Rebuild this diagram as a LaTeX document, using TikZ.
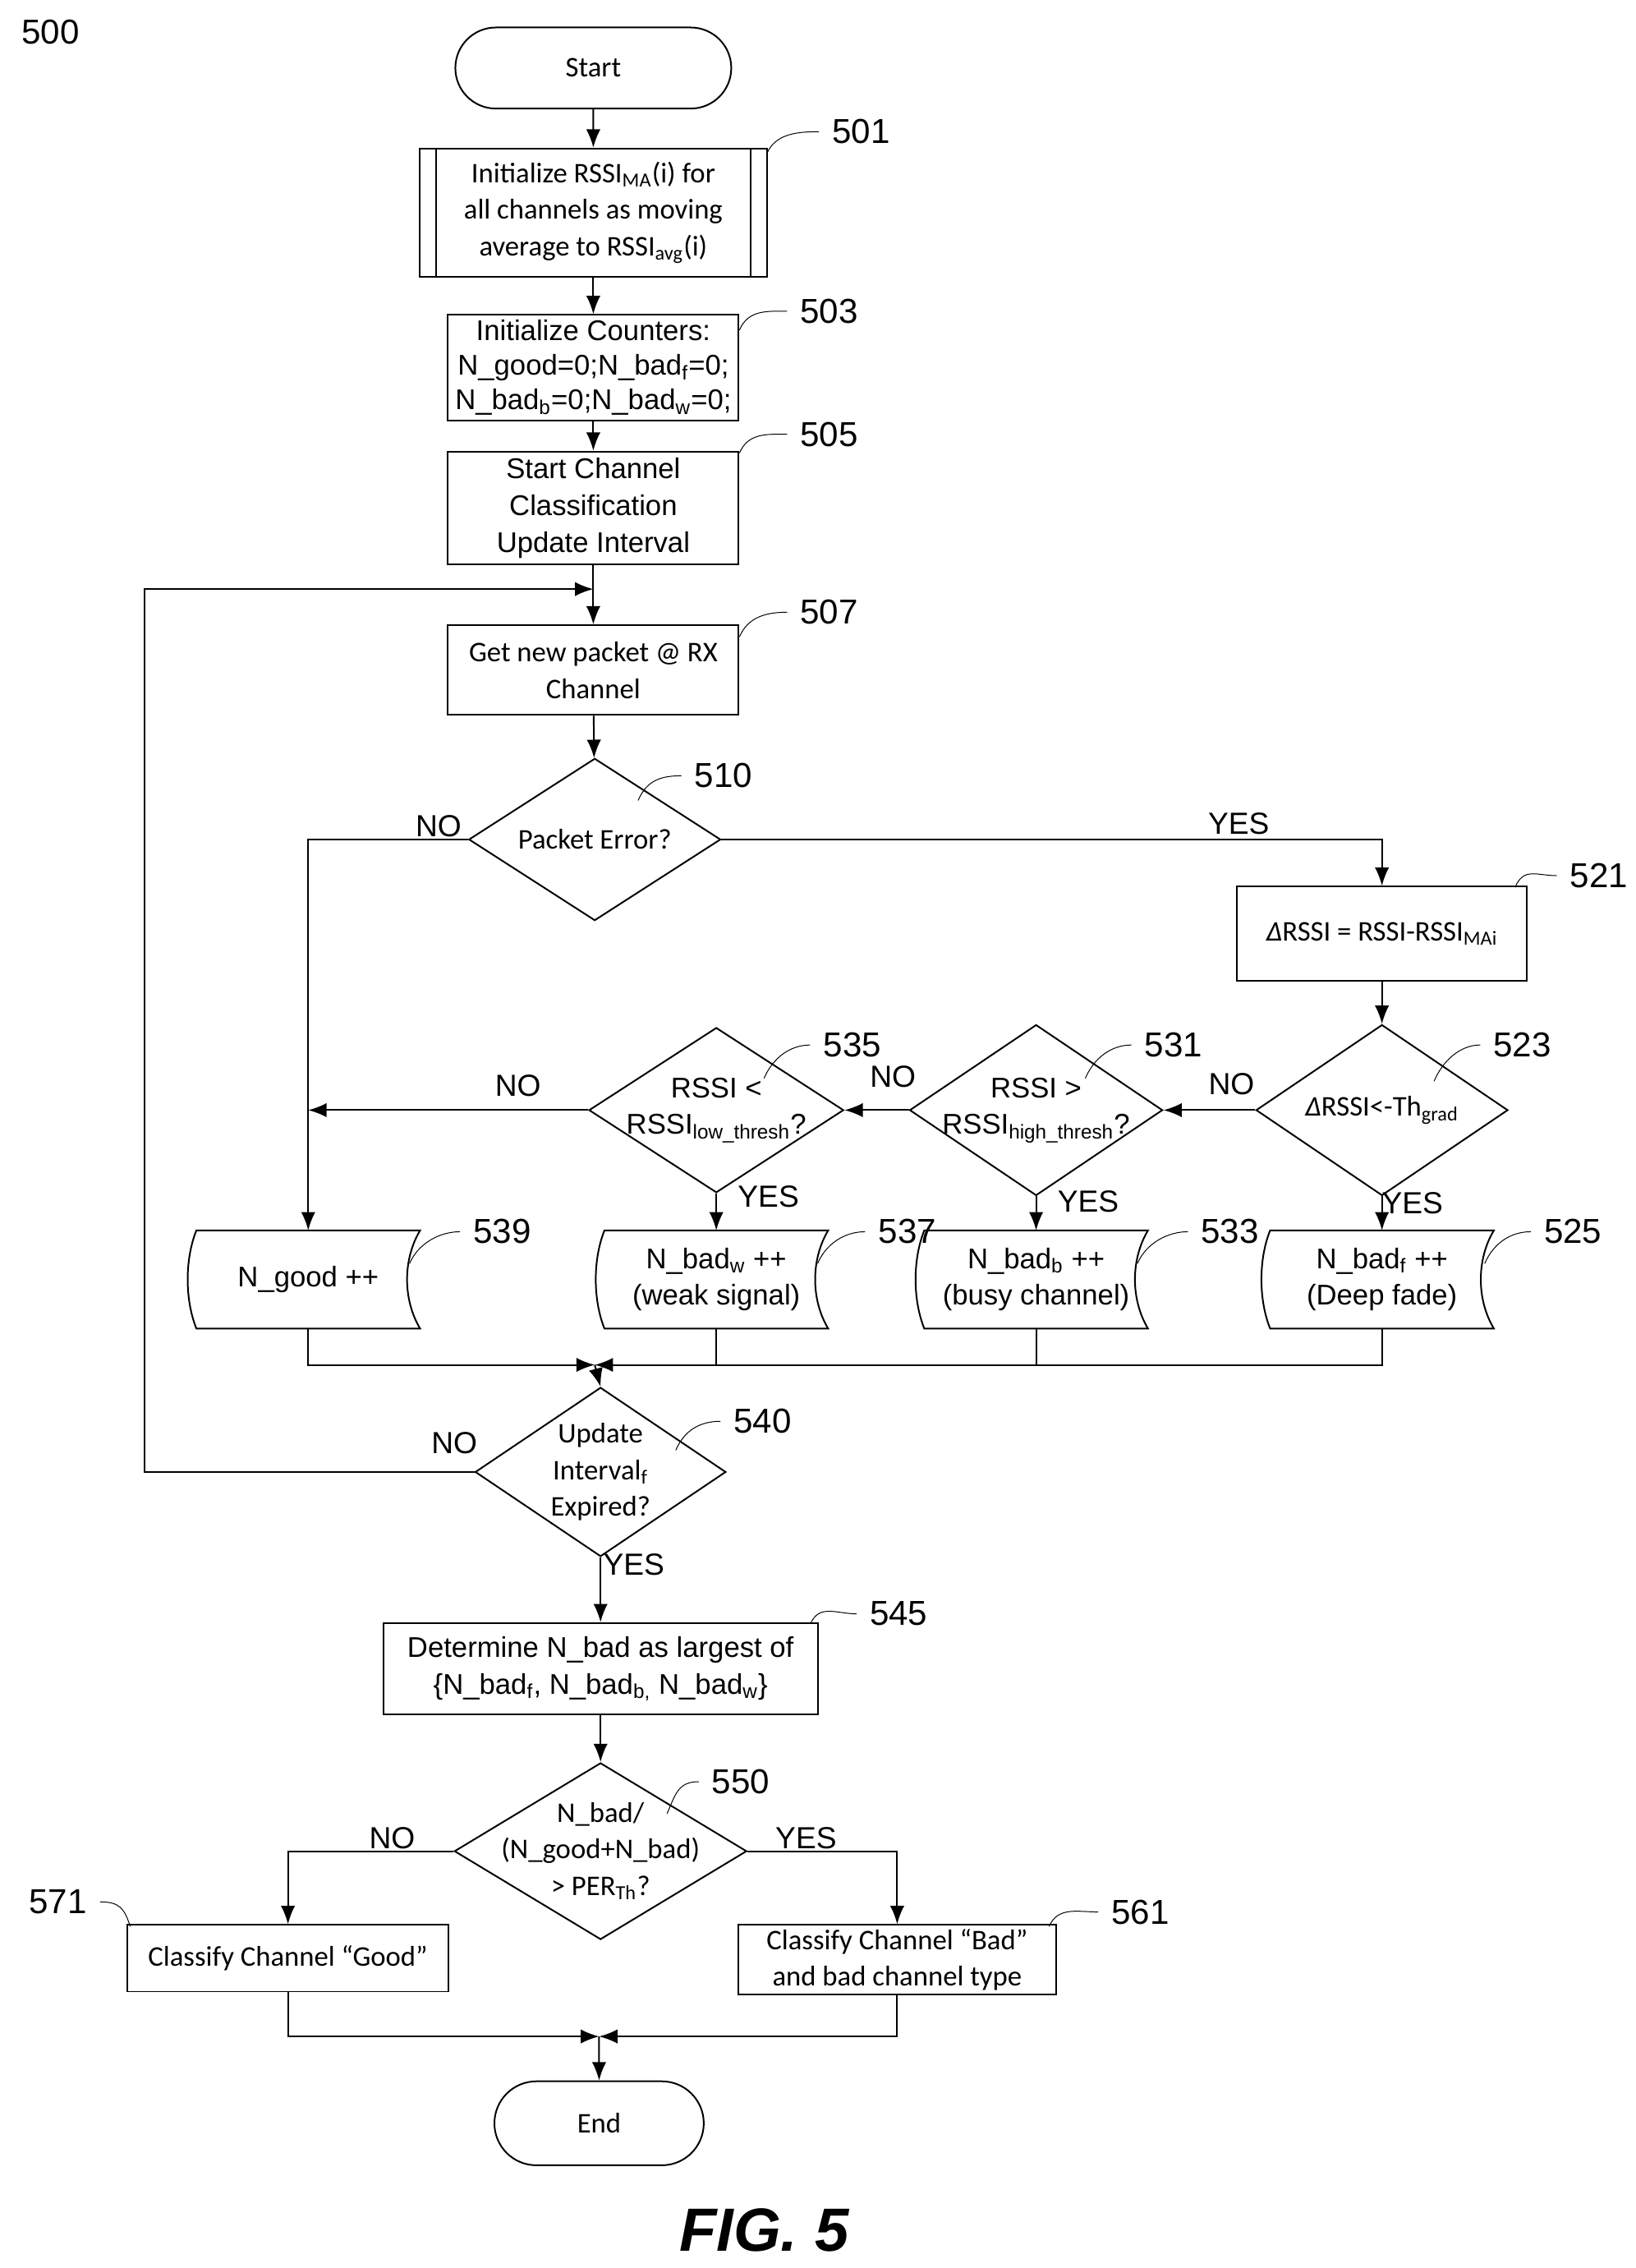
\documentclass[tikz,border=0pt]{standalone}
\usepackage{fontspec}
\setmainfont{Carlito}
\newfontfamily\arialf{Liberation Sans}
\usetikzlibrary{shapes.geometric,shapes.misc,arrows.meta,positioning,calc}

\tikzset{
  box/.style={draw, thick, rectangle, inner sep=1pt, align=center},
  term/.style={draw, thick, rounded rectangle, align=center},
  dec/.style={draw, thick, diamond, inner sep=0pt},
  flow/.style={thick, -{Latex[length=9pt,width=7pt]}},
  line/.style={thick},
  cal/.style={font=\fontsize{14}{18}\selectfont},
  ar/.style={font=\arialf\fontsize{14}{18}\selectfont},
  txt/.style={align=center, inner sep=0pt},
  lbl/.style={font=\arialf\fontsize{17}{20}\selectfont},
  yn/.style={font=\arialf\fontsize{15}{18}\selectfont},
  curl/.style={thin},
}

\begin{document}
\begin{tikzpicture}[x=0.025cm,y=-0.025cm]
\useasboundingbox (0,0) rectangle (1130,1567);

%Nombre de la figure
\node[lbl] (fignum) at (35,22) {500};

%Debut
\node[term, cal, minimum width=5cm, minimum height=1.4cm] (start) at (410,47) {Start};

%Initialisation
\node[box, cal, minimum width=6cm, minimum height=2.22cm] (s501) at (410,147) {Initialize RSSI\textsubscript{MA}(i) for\\ all channels as moving\\ average to RSSI\textsubscript{avg}(i)};
\draw[thick] ($(s501.north west)+(12,0)$) -- ($(s501.south west)+(12,0)$);
\draw[thick] ($(s501.north east)+(-12,0)$) -- ($(s501.south east)+(-12,0)$);
\node[box, ar, font=\arialf\fontsize{14}{17}\selectfont, minimum width=5.02cm, minimum height=1.82cm] (s503) at (410,254) {Initialize Counters:\\ N\_good=0;N\_bad\textsubscript{f}=0;\\ N\_bad\textsubscript{b}=0;N\_bad\textsubscript{w}=0;};
\node[box, ar, minimum width=5.02cm, minimum height=1.95cm] (s505) at (410,351) {Start Channel\\ Classification\\ Update Interval};
\node[box, cal, minimum width=5.02cm, minimum height=1.55cm] (s507) at (410,463) {Get new packet @ RX\\ Channel};

%Decisions
\node[dec, minimum width=4.35cm, minimum height=2.8cm] (s510) at (411,580) {};
\node[txt, cal] (t510) at (s510) {Packet Error?};
\node[box, cal, minimum width=5cm, minimum height=1.62cm] (s521) at (955,645) {\textit{Δ}RSSI = RSSI-RSSI\textsubscript{MAi}};
\node[dec, minimum width=4.35cm, minimum height=2.95cm] (s523) at (955,767) {};
\node[txt, cal] (t523) at (s523) {\textit{Δ}RSSI<-Th\textsubscript{grad}};
\node[dec, minimum width=4.37cm, minimum height=2.95cm] (s531) at (716,767) {};
\node[txt, ar] (t531) at (s531) {RSSI >\\ RSSI\textsubscript{high\_thresh}?};
\node[dec, minimum width=4.4cm, minimum height=2.85cm] (s535) at (495,767) {};
\node[txt, ar] (t535) at (s535) {RSSI <\\ RSSI\textsubscript{low\_thresh}?};

%Compteurs
\foreach \nm/\cx/\lab in {s539/213/{N\_good ++}, s537/495/{N\_bad\textsubscript{w} ++\\ (weak signal)}, s533/716/{N\_bad\textsubscript{b} ++\\ (busy channel)}, s525/955/{N\_bad\textsubscript{f} ++\\ (Deep fade)}} {
  \node[ar, minimum width=3.85cm, minimum height=1.68cm, align=center, inner sep=0pt] (\nm) at (\cx,884) {\lab};
  \draw[thick] (\nm.north west) .. controls +(-8,20) and +(-8,-20) .. (\nm.south west) -- (\nm.south east)
     .. controls +(-12,-20) and +(-12,20) .. (\nm.north east) -- cycle;
}

\coordinate (merge1) at (411,943);
\node[dec, minimum width=4.33cm, minimum height=2.92cm] (s540) at (415,1017) {};
\node[txt, cal] (t540) at (s540) {Update\\ Interval\textsubscript{f}\\ Expired?};
\node[box, ar, minimum width=7.5cm, minimum height=1.58cm] (s545) at (415,1153) {Determine N\_bad as largest of\\ \{N\_bad\textsubscript{f}, N\_bad\textsubscript{b,} N\_bad\textsubscript{w}\}};
\node[dec, minimum width=5.05cm, minimum height=3.05cm] (s550) at (415,1279) {};
\node[txt, cal] (t550) at (s550) {N\_bad/\\ (N\_good+N\_bad)\\ > PER\textsubscript{Th}?};
\node[box, cal, minimum width=5.55cm, minimum height=1.15cm] (s571) at (199,1353) {Classify Channel “Good”};
\node[box, cal, minimum width=5.5cm, minimum height=1.2cm] (s561) at (620,1354) {Classify Channel “Bad”\\ and bad channel type};
\coordinate (merge2) at (414,1407);
\node[term, cal, minimum width=3.85cm, minimum height=1.45cm] (end) at (414,1467) {End};

%Connexions principales
\draw[flow] (start) -- (s501);
\draw[flow] (s501) -- (s503);
\draw[flow] (s503) -- (s505);
\draw[flow] (s505) -- (s507);
\draw[flow] (s507) -- (s510);
\draw[flow] (s510.east) -| (s521.north);
\draw[flow] (s510.west) -| (s539.north);
\draw[flow] (s521) -- (s523);
\draw[flow] (s523.west) -- (s531.east);
\draw[flow] (s531.west) -- (s535.east);
\draw[flow] (s535.west) -- (213,767);
\draw[flow] (s523.south) -- (s525.north);
\draw[flow] (s531.south) -- (s533.north);
\draw[flow] (s535.south) -- (s537.north);
\draw[flow] (s539.south) |- (merge1);
\draw[flow] (s525.south) |- (merge1);
\draw[line] (s537.south) -- (s537.south |- merge1);
\draw[line] (s533.south) -- (s533.south |- merge1);
\draw[flow] (merge1) -- (s540.north);
\draw[flow] (s540.west) -- (100,1017) -- (100,407) -- (410,407);
\draw[flow] (s540.south) -- (s545.north);
\draw[flow] (s545) -- (s550);
\draw[flow] (s550.west) -| (s571.north);
\draw[flow] (s550.east) -| (s561.north);
\draw[flow] (s571.south) |- (merge2);
\draw[flow] (s561.south) |- (merge2);
\draw[flow] (merge2) -- (end);

%Etiquettes OUI / NON
\node[yn] (n510) at (303,571) {NO};
\node[yn] (y510) at (856,569) {YES};
\node[yn] (n523) at (851,749) {NO};
\node[yn] (n531) at (617,744) {NO};
\node[yn] (n535) at (358,750) {NO};
\node[yn] (y523) at (976,831) {YES};
\node[yn] (y531) at (752,830) {YES};
\node[yn] (y535) at (531,827) {YES};
\node[yn] (n540) at (314,997) {NO};
\node[yn] (y540) at (438,1081) {YES};
\node[yn] (n550) at (271,1270) {NO};
\node[yn] (y550) at (557,1270) {YES};

%Numeros de reference
\foreach \nm/\lx/\ly/\ax/\ay in {501/595/91/530/106, 503/573/215/511/228, 505/573/300/511/313, 507/573/423/511/440,
  510/500/536/441/553, 521/1105/605/1047/613, 523/1052/722/991/747, 531/811/722/750/745, 535/589/722/528/745,
  539/347/851/283/873, 537/627/851/565/873, 533/850/851/786/873, 525/1087/851/1026/873,
  540/527/982/467/1002, 545/621/1115/560/1122, 550/512/1231/461/1253, 561/788/1321/725/1331} {
  \node[lbl] (r\nm) at (\lx,\ly) {\nm};
  \draw[curl] (\ax,\ay) .. controls +(6,-14) and +(-14,0) .. ([xshift=-3pt]r\nm.west);
}
\node[lbl] (r571) at (40,1314) {571};
\draw[curl] ([xshift=3pt]r571.east) .. controls +(14,0) and +(-4,-12) .. (90,1331);

%Titre
\node[font=\arialf\bfseries\itshape\fontsize{30}{34}\selectfont] (title) at (528,1541) {FIG. 5};
\end{tikzpicture}
\end{document}
